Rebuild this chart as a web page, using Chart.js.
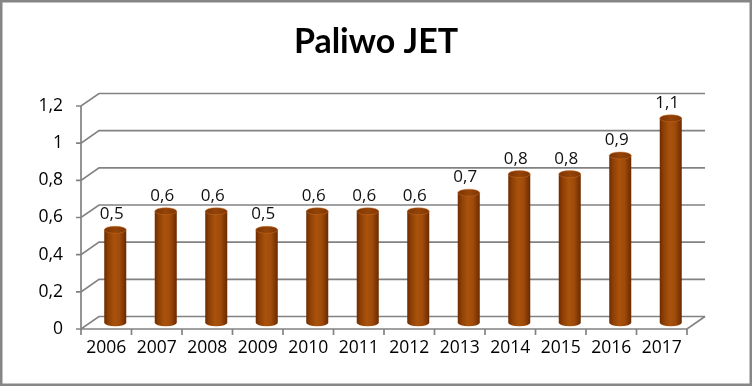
<!DOCTYPE html>
<html>
<head>
<meta charset="utf-8">
<script src="https://cdn.jsdelivr.net/npm/chart.js@4/dist/chart.umd.min.js"></script>
<style>
html,body{margin:0;padding:0;background:#fff;}
#wrap{width:752px;height:386px;position:relative;}
</style>
</head>
<body>
<div id="wrap"><canvas id="c" width="752" height="386"></canvas></div>
<script>
const titleText = 'Paliwo JET';
const categories = ['2006','2007','2008','2009','2010','2011','2012','2013','2014','2015','2016','2017'];
const values = [0.5,0.6,0.6,0.5,0.6,0.6,0.6,0.7,0.8,0.8,0.9,1.1];
const yTicks = [0,0.2,0.4,0.6,0.8,1,1.2];

const DEPTH_X = 18, DEPTH_Y = -12.5;
const GRID = '#828282';
const fmt = v => String(Math.round(v*10)/10).replace('.', ',');

const depthPlugin = {
  id: 'depth',
  beforeDatasetsDraw(chart) {
    const ctx = chart.ctx;
    const ys = chart.scales.y, xs = chart.scales.x;
    const left = xs.left, right = xs.right;
    ctx.save();
    ctx.strokeStyle = GRID;
    ctx.lineWidth = 1.7;
    ctx.lineCap = 'butt';
    yTicks.forEach(v => {
      const y = ys.getPixelForValue(v);
      ctx.beginPath();
      ctx.moveTo(left - 5, y);
      ctx.lineTo(left, y);
      ctx.lineTo(left + DEPTH_X, y + DEPTH_Y);
      ctx.lineTo(right + DEPTH_X, y + DEPTH_Y);
      ctx.stroke();
    });
    const y0 = ys.getPixelForValue(0);
    const yTop = ys.getPixelForValue(yTicks[yTicks.length-1]);
    ctx.beginPath();
    ctx.moveTo(left, yTop);
    ctx.lineTo(left, y0);
    ctx.lineTo(right, y0);
    ctx.lineTo(right + DEPTH_X, y0 + DEPTH_Y);
    ctx.stroke();
    for (let i = 0; i <= categories.length; i++) {
      const x = xs.getPixelForValue(i - 0.5);
      ctx.beginPath();
      ctx.moveTo(x, y0);
      ctx.lineTo(x, y0 + 6);
      ctx.stroke();
    }
    ctx.restore();
  },
  afterDatasetsDraw(chart) {
    const ctx = chart.ctx;
    const meta = chart.getDatasetMeta(0);
    const ox = DEPTH_X/2, oy = DEPTH_Y/2;
    ctx.save();
    meta.data.forEach((bar, i) => {
      const p = bar.getProps(['x','y','base','width'], true);
      const cx = p.x + ox, w = p.width, hw = w/2;
      const yt = p.y + oy, yb = p.base + oy;
      const ry = 3.5;
      const g = ctx.createLinearGradient(cx - hw, 0, cx + hw, 0);
      g.addColorStop(0, '#6e2c00');
      g.addColorStop(0.18, '#8f4005');
      g.addColorStop(0.45, '#a9520d');
      g.addColorStop(0.7, '#a04b0a');
      g.addColorStop(1, '#6a2a00');
      ctx.fillStyle = g;
      ctx.beginPath();
      ctx.moveTo(cx - hw, yt);
      ctx.lineTo(cx - hw, yb);
      ctx.ellipse(cx, yb, hw, ry, 0, Math.PI, 0, true);
      ctx.lineTo(cx + hw, yt);
      ctx.closePath();
      ctx.fill();
      const gt = ctx.createLinearGradient(cx - hw, 0, cx + hw, 0);
      gt.addColorStop(0, '#7c3402');
      gt.addColorStop(0.5, '#944408');
      gt.addColorStop(1, '#803703');
      ctx.fillStyle = gt;
      ctx.beginPath();
      ctx.ellipse(cx, yt, hw, ry, 0, 0, Math.PI*2);
      ctx.fill();
      ctx.strokeStyle = 'rgba(200,110,40,0.6)';
      ctx.lineWidth = 0.8;
      ctx.stroke();
      ctx.fillStyle = '#111';
      ctx.font = '17px "Open Sans"';
      ctx.textAlign = 'center';
      ctx.textBaseline = 'alphabetic';
      ctx.fillText(fmt(values[i]), cx - 3.5, yt - ry - 7);
    });
    ctx.restore();
  },
  afterDraw(chart) {
    const ctx = chart.ctx;
    ctx.save();
    ctx.fillStyle = '#000';
    ctx.font = 'bold 34px Lato';
    ctx.textAlign = 'center';
    ctx.textBaseline = 'alphabetic';
    ctx.fillText(titleText, chart.width / 2, 53);
    ctx.strokeStyle = '#868686';
    ctx.lineWidth = 2.5;
    ctx.strokeRect(1.25, 1.25, chart.width - 2.5, chart.height - 2.5);
    ctx.restore();
  }
};

new Chart(document.getElementById('c'), {
  type: 'bar',
  data: {
    labels: categories,
    datasets: [{
      data: values,
      backgroundColor: 'rgba(0,0,0,0)',
      borderWidth: 0,
      categoryPercentage: 1,
      barPercentage: 0.436,
      clip: false
    }]
  },
  options: {
    responsive: false,
    animation: false,
    events: [],
    layout: { padding: { left: 0, right: 65, top: 106, bottom: 0 } },
    plugins: {
      legend: { display: false },
      tooltip: { enabled: false },
      title: { display: false }
    },
    scales: {
      x: {
        grid: { display: false, drawTicks: false },
        border: { display: false },
        ticks: { color: '#000', font: { family: 'Open Sans', size: 17.5 }, padding: 9, maxRotation: 0, autoSkip: false },
        afterFit(s) { s.height = 57; }
      },
      y: {
        min: 0, max: 1.2,
        afterBuildTicks(s) { s.ticks = yTicks.map(v => ({ value: v })); },
        grid: { display: false, drawTicks: false },
        border: { display: false },
        ticks: { color: '#000', font: { family: 'Open Sans', size: 17.5 }, padding: 18, callback: v => fmt(v) },
        afterFit(s) { s.width = 81; }
      }
    }
  },
  plugins: [depthPlugin]
});
</script>
</body>
</html>
